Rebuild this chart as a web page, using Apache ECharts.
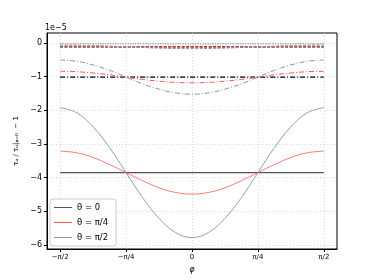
<!DOCTYPE html>
<html><head><meta charset="utf-8">
<script src="https://cdn.jsdelivr.net/npm/echarts@6/dist/echarts.min.js"></script>
<style>html,body{margin:0;padding:0;background:#fff}#c{width:374px;height:280px}</style>
</head><body><div id="c"></div>
<script>
// phi in radians, -pi/2 .. pi/2 in steps of pi/16
const phi = [-1.5708,-1.3744,-1.1781,-0.9817,-0.7854,-0.5890,-0.3927,-0.1963,0,0.1963,0.3927,0.5890,0.7854,0.9817,1.1781,1.3744,1.5708];
// values in units of 1e-5
// solid family
const solid0   = [-3.85,-3.85,-3.85,-3.85,-3.85,-3.85,-3.85,-3.85,-3.85,-3.85,-3.85,-3.85,-3.85,-3.85,-3.85,-3.85,-3.85];
const solid45  = [-3.21,-3.26,-3.40,-3.61,-3.85,-4.09,-4.30,-4.44,-4.49,-4.44,-4.30,-4.09,-3.85,-3.61,-3.40,-3.26,-3.21];
const solid90  = [-1.92,-2.07,-2.49,-3.11,-3.85,-4.59,-5.21,-5.63,-5.78,-5.63,-5.21,-4.59,-3.85,-3.11,-2.49,-2.07,-1.92];
// dash-dot family
const dashdot0  = [-1.01,-1.01,-1.01,-1.01,-1.01,-1.01,-1.01,-1.01,-1.01,-1.01,-1.01,-1.01,-1.01,-1.01,-1.01,-1.01,-1.01];
const dashdot45 = [-0.84,-0.85,-0.89,-0.94,-1.01,-1.08,-1.13,-1.17,-1.18,-1.17,-1.13,-1.08,-1.01,-0.94,-0.89,-0.85,-0.84];
const dashdot90 = [-0.50,-0.54,-0.65,-0.81,-1.01,-1.21,-1.37,-1.48,-1.52,-1.48,-1.37,-1.21,-1.01,-0.81,-0.65,-0.54,-0.50];
// dashed family
const dashed0  = [-0.11,-0.11,-0.11,-0.11,-0.11,-0.11,-0.11,-0.11,-0.11,-0.11,-0.11,-0.11,-0.11,-0.11,-0.11,-0.11,-0.11];
const dashed45 = [-0.09,-0.092,-0.096,-0.102,-0.11,-0.118,-0.124,-0.128,-0.13,-0.128,-0.124,-0.118,-0.11,-0.102,-0.096,-0.092,-0.09];
const dashed90 = [-0.055,-0.06,-0.07,-0.09,-0.11,-0.13,-0.15,-0.16,-0.165,-0.16,-0.15,-0.13,-0.11,-0.09,-0.07,-0.06,-0.055];
// dotted family
const dotted0  = [-0.02,-0.02,-0.02,-0.02,-0.02,-0.02,-0.02,-0.02,-0.02,-0.02,-0.02,-0.02,-0.02,-0.02,-0.02,-0.02,-0.02];
const dotted45 = [-0.018,-0.018,-0.019,-0.019,-0.02,-0.021,-0.021,-0.022,-0.022,-0.022,-0.021,-0.021,-0.02,-0.019,-0.019,-0.018,-0.018];
const dotted90 = [-0.014,-0.014,-0.016,-0.018,-0.02,-0.022,-0.024,-0.026,-0.026,-0.026,-0.024,-0.022,-0.02,-0.018,-0.016,-0.014,-0.014];

const xTicks = [-1.5708,-0.7854,0,0.7854,1.5708];
const xTickLabels = ['−π/2','−π/4','0','π/4','π/2'];
const yTicks = [0,-1,-2,-3,-4,-5,-6];
const yTickLabels = ['0','−1','−2','−3','−4','−5','−6'];
const legendNames = ['θ = 0','θ = π/4','θ = π/2'];

const C0 = '#555555', C45 = '#ff5555', C90 = '#8a9696';
const font = 'DejaVu Sans';
function pts(ys){ return phi.map((p,i)=>[p,ys[i]]); }
function S(name, ys, color, type, width, opacity){
  return {name, type:'line', data:pts(ys), showSymbol:false, symbol:'none', silent:true,
    smooth:0.4, lineStyle:{color, width:width||1, type:type||'solid', opacity:opacity==null?1:opacity},
    itemStyle:{color}, animation:false, z: 3};
}
const DD = [5,2,1,2], DA = [3,1.5], DO = [1,1.5];
const series = [
  S(legendNames[0], solid0, C0, 'solid', 1.2),
  S(legendNames[1], solid45, C45, 'solid', 0.8),
  S(legendNames[2], solid90, C90, 'solid', 0.9),
  S('dd0', dashdot0, '#000', DD, 1.2),
  S('dd45', dashdot45, C45, DD, 1),
  S('dd90', dashdot90, C90, DD, 1),
  S('da0', dashed0, '#000', DA, 1.2),
  S('da45', dashed45, C45, DA, 1.2),
  S('da90', dashed90, C90, DA, 1),
  S('do0', dotted0, '#999', DO, 1),
  S('do45', dotted45, '#bbb', DO, 1),
  S('do90', dotted90, '#aaa', DO, 1)
];
const chart = echarts.init(document.getElementById('c'), null, {renderer:'canvas'});
chart.setOption({
  animation:false,
  backgroundColor:'#fff',
  textStyle:{fontFamily:font},
  grid:{left:47, right:37, top:33, bottom:31, show:true, borderColor:'#000', borderWidth:1, backgroundColor:'transparent'},
  xAxis:{type:'value', min:-1.7279, max:1.7279,
    name:'φ', nameLocation:'middle', nameGap:17, nameTextStyle:{fontSize:8, color:'#000', fontStyle:'italic'},
    axisLine:{show:true, onZero:false, lineStyle:{color:'#000', width:1}},
    axisTick:{show:true, length:3, lineStyle:{color:'#000'}, customValues:xTicks},
    axisLabel:{customValues:xTicks, fontSize:7, color:'#000', margin:5,
      formatter:v=>{let i=xTicks.findIndex(t=>Math.abs(t-v)<1e-3);return i>=0?xTickLabels[i]:'';}},
    splitLine:{show:true, lineStyle:{color:'#d0d0d0', type:[1,2], width:0.8}}},
  yAxis:{type:'value', min:-6.12, max:0.30,
    name:'τᵤ / τᵤ|ᵩ₌₀  − 1', nameLocation:'middle', nameGap:26, nameRotate:90,
    nameTextStyle:{fontSize:7, color:'#000'},
    axisLine:{show:true, onZero:false, lineStyle:{color:'#000', width:1}},
    axisTick:{show:true, length:3, lineStyle:{color:'#000'}, customValues:yTicks},
    axisLabel:{customValues:yTicks, fontSize:8, color:'#000', margin:5,
      formatter:v=>{let i=yTicks.findIndex(t=>Math.abs(t-v)<1e-6);return i>=0?yTickLabels[i]:'';}},
    splitLine:{show:true, lineStyle:{color:'#d0d0d0', type:[1,2], width:0.8}}},
  legend:{data:legendNames, orient:'vertical', left:50, top:199, itemWidth:18, itemHeight:8, itemGap:6,
    padding:[4,8,4,4], backgroundColor:'rgba(255,255,255,0.85)', borderColor:'#ccc', borderWidth:1, borderRadius:3,
    textStyle:{fontSize:8.5, color:'#000', fontFamily:font}, icon:'path://M0,4 L18,4 L18,5 L0,5 Z'},
  graphic:[{type:'text', left:45, top:24, style:{text:'1e−5', fontSize:8, fill:'#000', fontFamily:font}}],
  series
});
</script></body></html>
